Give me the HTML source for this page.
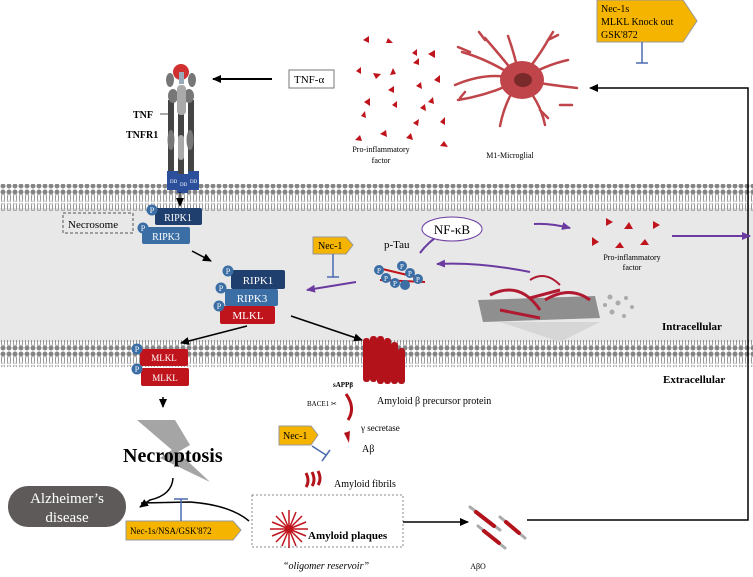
<!DOCTYPE html>
<html><head><meta charset="utf-8"><style>
body{margin:0;background:#fff}
svg{display:block;font-family:"Liberation Serif",serif}
</style></head><body>
<svg width="753" height="577" viewBox="0 0 753 577" xmlns="http://www.w3.org/2000/svg">
<defs>
<pattern id="lip" width="6" height="27" patternUnits="userSpaceOnUse">
<circle cx="3" cy="3" r="2.5" fill="#858585"/>
<path d="M2 5 q-1 4 0 8 M4 5 q1 4 0 8 M2 14 q-1 4 0 8 M4 14 q1 4 0 8" stroke="#8a8a8a" stroke-width="0.9" fill="none"/>
<circle cx="3" cy="24" r="2.5" fill="#858585"/>
</pattern>
<marker id="ah" markerUnits="userSpaceOnUse" markerWidth="9" markerHeight="8" refX="8" refY="4" orient="auto"><path d="M0 0 L9 4 L0 8z" fill="#000"/></marker>
<marker id="ap" markerUnits="userSpaceOnUse" markerWidth="9" markerHeight="8" refX="8" refY="4" orient="auto"><path d="M0 0 L9 4 L0 8z" fill="#6a3aa0"/></marker>
</defs>

<rect x="0" y="208" width="753" height="134" fill="#e8e8e8"/>
<rect x="0" y="184" width="753" height="27" fill="url(#lip)"/>
<rect x="0" y="340" width="753" height="27" fill="url(#lip)"/>

<g>
<rect x="168" y="100" width="6" height="75" fill="#444"/><rect x="178" y="100" width="6" height="75" fill="#444"/><rect x="188" y="100" width="6" height="75" fill="#444"/>
<ellipse cx="170" cy="80" rx="4" ry="7" fill="#777"/><ellipse cx="192" cy="80" rx="4" ry="7" fill="#777"/>
<ellipse cx="173" cy="96" rx="5" ry="7" fill="#777"/><ellipse cx="189" cy="96" rx="5" ry="7" fill="#777"/>
<rect x="177" y="85" width="9" height="30" rx="4" fill="#aaa"/>
<ellipse cx="171" cy="140" rx="3.5" ry="10" fill="#777"/><ellipse cx="190" cy="140" rx="3.5" ry="10" fill="#777"/>
<rect x="178" y="135" width="6" height="25" rx="3" fill="#aaa"/>
<circle cx="181" cy="72" r="8" fill="#d03030"/><rect x="179" y="72" width="5" height="12" fill="#9ab"/>
<rect x="167" y="171" width="11" height="19" fill="#2b4f9a"/><rect x="177" y="174" width="11" height="19" fill="#2b4f9a"/><rect x="188" y="171" width="11" height="19" fill="#2b4f9a"/>
<text x="170" y="183" font-size="5" fill="#fff">DD</text><text x="180" y="186" font-size="5" fill="#fff">DD</text><text x="190" y="183" font-size="5" fill="#fff">DD</text>
<line x1="180" y1="192" x2="180" y2="206" stroke="#000" stroke-width="1.2" marker-end="url(#ah)"/>
</g>
<text x="133" y="118" font-size="10" font-weight="bold">TNF</text>
<line x1="160" y1="114" x2="168" y2="114" stroke="#555"/>
<text x="126" y="138" font-size="10" font-weight="bold">TNFR1</text>
<line x1="272" y1="79" x2="213" y2="79" stroke="#000" stroke-width="2" marker-end="url(#ah)"/>
<rect x="289" y="70" width="45" height="18" fill="#fff" stroke="#777"/>
<text x="294" y="83" font-size="11">TNF-α</text>

<g fill="#c0141c">
<path d="M363 40 l6 -4 v7z M388 38 l5 5 h-7z M356 71 l5 -4 v7z M381 74 l-5 5 l-3 -6z M390 75 l3 -7 3 6z M412 53 l5 -4 v7z M435 50 l-7 4 7 4z M413 63 l6 -5 v7z M394 86 l-6 4 6 3z M421 82 l-5 4 6 3z M434 80 l6 -5 0 8z M397 101 l-5 4 5 3z M433 97 l-5 5 6 2z M420 108 l5 -4 1 7z M413 123 l6 -4 -1 7z M380 134 l6 -4 1 7z M406 138 l5 -5 2 7z M440 122 l5 -5 v8z M440 146 l4 -5 4 6z M370 98 l-6 4 6 4z M355 140 l5 -5 2 6z M361 116 l4 -5 1 7z"/>
</g>
<text x="381" y="152" font-size="8" text-anchor="middle">Pro-inflammatory</text>
<text x="381" y="163" font-size="8" text-anchor="middle">factor</text>

<g stroke="#c0454a" stroke-width="2.5" fill="none" stroke-linecap="round">
<path d="M520 80 Q490 70 455 85 M520 80 Q490 60 462 52 M520 80 Q500 55 485 38 M520 80 Q515 55 508 36 M520 80 Q540 55 548 40 M520 80 Q545 65 568 60 M520 80 Q550 85 577 88 M520 80 Q540 100 545 125 M520 80 Q505 100 500 126 M520 80 Q490 95 458 100 M470 52 l-12 -5 M485 40 l-6 -8 M548 40 l5 -8 M548 40 l10 -5 M560 105 l12 0 M540 110 l8 8 M465 92 l-5 6"/>
<ellipse cx="522" cy="80" rx="22" ry="19" fill="#c0454a" stroke="none"/>
<ellipse cx="523" cy="80" rx="9" ry="7" fill="#7a2a2a" stroke="none"/>
</g>
<text x="510" y="158" font-size="8" text-anchor="middle">M1-Microglial</text>

<path d="M597 0 H683 L697 21 L683 42 H597z" fill="#f5b400" stroke="#999"/>
<text x="601" y="12" font-size="10">Nec-1s</text><text x="601" y="25" font-size="10">MLKL  Knock out</text><text x="601" y="38" font-size="10">GSK'872</text>
<line x1="642" y1="42" x2="642" y2="63" stroke="#4a6ab0" stroke-width="1.5"/><line x1="636" y1="63" x2="648" y2="63" stroke="#4a6ab0" stroke-width="1.5"/>

<path d="M527 520 H748 V88 H590" fill="none" stroke="#000" stroke-width="1.5" marker-end="url(#ah)"/>

<rect x="63" y="213" width="70" height="20" fill="none" stroke="#555" stroke-dasharray="3,2"/>
<text x="68" y="228" font-size="11">Necrosome</text>
<rect x="155" y="208" width="47" height="17" rx="2" fill="#1f3f6e"/><text x="178" y="221" font-size="10" fill="#fff" text-anchor="middle">RIPK1</text>
<rect x="142" y="227" width="48" height="17" rx="2" fill="#3a6ea5"/><text x="166" y="240" font-size="10" fill="#fff" text-anchor="middle">RIPK3</text>
<circle cx="152" cy="210" r="5.5" fill="#3a6ea5"/><text x="152" y="213" font-size="8" fill="#fff" text-anchor="middle">P</text>
<circle cx="143" cy="228" r="5.5" fill="#3a6ea5"/><text x="143" y="231" font-size="8" fill="#fff" text-anchor="middle">P</text>
<line x1="192" y1="251" x2="211" y2="261" stroke="#000" stroke-width="1.5" marker-end="url(#ah)"/>

<rect x="231" y="270" width="54" height="19" rx="2" fill="#1f3f6e"/><text x="258" y="284" font-size="11" fill="#fff" text-anchor="middle">RIPK1</text>
<rect x="225" y="289" width="53" height="17" rx="2" fill="#3a6ea5"/><text x="252" y="302" font-size="11" fill="#fff" text-anchor="middle">RIPK3</text>
<rect x="220" y="306" width="55" height="18" rx="2" fill="#c0141c"/><text x="248" y="319" font-size="11" fill="#fff" text-anchor="middle">MLKL</text>
<g fill="#3a6ea5"><circle cx="228" cy="271" r="5.5"/><circle cx="221" cy="288" r="5.5"/><circle cx="219" cy="306" r="5.5"/></g>
<g font-size="8" fill="#fff" text-anchor="middle"><text x="228" y="274">P</text><text x="221" y="291">P</text><text x="219" y="309">P</text></g>

<path d="M313 237 H346 L353 245 L346 254 H313z" fill="#f5b400" stroke="#999"/><text x="318" y="249" font-size="10">Nec-1</text>
<line x1="333" y1="254" x2="333" y2="277" stroke="#4a6ab0" stroke-width="1.5"/><line x1="327" y1="277" x2="339" y2="277" stroke="#4a6ab0" stroke-width="1.5"/>
<line x1="356" y1="282" x2="307" y2="290" stroke="#6a3aa0" stroke-width="2" marker-end="url(#ap)"/>

<text x="384" y="248" font-size="11">p-Tau</text>
<g>
<line x1="378" y1="268" x2="420" y2="278" stroke="#c0141c" stroke-width="2"/><line x1="380" y1="280" x2="425" y2="282" stroke="#c0141c" stroke-width="2"/>
<g fill="#3a6ea5"><circle cx="379" cy="270" r="5"/><circle cx="386" cy="278" r="5"/><circle cx="395" cy="283" r="5"/><circle cx="402" cy="266" r="5"/><circle cx="410" cy="273" r="5"/><circle cx="418" cy="279" r="5"/><circle cx="405" cy="285" r="5"/></g>
<g font-size="7" fill="#fff" text-anchor="middle"><text x="379" y="273">P</text><text x="386" y="281">P</text><text x="395" y="286">P</text><text x="402" y="269">P</text><text x="410" y="276">P</text><text x="418" y="282">P</text></g>
</g>
<path d="M420 253 Q428 242 442 233" fill="none" stroke="#6a3aa0" stroke-width="2" marker-end="url(#ap)"/>
<ellipse cx="452" cy="229" rx="30" ry="12" fill="#fff" stroke="#6a3aa0"/>
<text x="452" y="234" font-size="13" text-anchor="middle">NF-κB</text>
<path d="M534 224 Q550 223 570 228" fill="none" stroke="#6a3aa0" stroke-width="2" marker-end="url(#ap)"/>
<path d="M530 272 Q480 262 437 264" fill="none" stroke="#6a3aa0" stroke-width="2" marker-end="url(#ap)"/>
<g fill="#c0141c">
<path d="M606 218 l7 4 -7 4z M624 229 l5 -7 4 7z M653 221 l7 4 -7 4z M592 237 l7 5 -7 4z M615 248 l5 -6 4 6z M640 245 l5 -6 4 6z"/>
</g>
<text x="632" y="260" font-size="8" text-anchor="middle">Pro-inflammatory</text><text x="632" y="270" font-size="8" text-anchor="middle">factor</text>
<line x1="672" y1="236" x2="750" y2="236" stroke="#6a3aa0" stroke-width="2" marker-end="url(#ap)"/>

<g>
<path d="M500 322 L560 342 L600 322z" fill="#d6d6d6"/>
<path d="M478 300 L595 296 L600 318 L483 322z" fill="#8f8f8f"/>
<path d="M490 295 Q520 280 540 310 M530 298 L560 290 M545 300 Q570 285 590 300 M500 310 L540 318" stroke="#b01a30" stroke-width="3" fill="none"/>
<path d="M530 280 Q545 270 560 285" stroke="#b01a30" stroke-width="2" fill="none"/>
<g fill="#aaa"><circle cx="610" cy="297" r="2.5"/><circle cx="618" cy="303" r="2.5"/><circle cx="626" cy="298" r="2"/><circle cx="612" cy="312" r="2.5"/><circle cx="624" cy="316" r="2"/><circle cx="632" cy="307" r="2"/><circle cx="605" cy="305" r="2"/></g>
</g>
<text x="662" y="330" font-size="11" font-weight="bold">Intracellular</text>
<text x="663" y="383" font-size="11" font-weight="bold">Extracellular</text>

<line x1="247" y1="326" x2="181" y2="343" stroke="#000" stroke-width="1.5" marker-end="url(#ah)"/>
<line x1="291" y1="316" x2="362" y2="340" stroke="#000" stroke-width="1.5" marker-end="url(#ah)"/>

<rect x="140" y="349" width="48" height="17" rx="2" fill="#c0141c"/><text x="164" y="361" font-size="9" fill="#fff" text-anchor="middle">MLKL</text>
<rect x="141" y="368" width="48" height="18" rx="2" fill="#c0141c"/><text x="165" y="381" font-size="9" fill="#fff" text-anchor="middle">MLKL</text>
<circle cx="137" cy="349" r="5.5" fill="#3a6ea5"/><text x="137" y="352" font-size="8" fill="#fff" text-anchor="middle">P</text>
<circle cx="137" cy="369" r="5.5" fill="#3a6ea5"/><text x="137" y="372" font-size="8" fill="#fff" text-anchor="middle">P</text>
<line x1="163" y1="397" x2="163" y2="407" stroke="#000" stroke-width="1.5" marker-end="url(#ah)"/>

<path d="M137 420 L175 420 L190 445 L178 452 L210 482 L160 458 L172 450z" fill="#a5a5a5"/>
<text x="123" y="462" font-size="20" font-weight="bold">Necroptosis</text>
<path d="M173 478 Q172 495 150 500 L140 507" fill="none" stroke="#000" stroke-width="1.5" marker-end="url(#ah)"/>
<path d="M249 521 Q230 505 190 502 L141 503" fill="none" stroke="#000" stroke-width="1.5"/>
<rect x="8" y="486" width="118" height="41" rx="20" fill="#5e5a5a"/>
<text x="67" y="503" font-size="15" fill="#fff" text-anchor="middle">Alzheimer’s</text>
<text x="67" y="522" font-size="15" fill="#fff" text-anchor="middle">disease</text>
<path d="M126 521 H233 L241 530 L233 540 H126z" fill="#f5b400" stroke="#999"/>
<text x="130" y="534" font-size="9">Nec-1s/NSA/GSK'872</text>
<line x1="181" y1="521" x2="181" y2="499" stroke="#4a6ab0" stroke-width="1.5"/><line x1="174" y1="499" x2="188" y2="499" stroke="#4a6ab0" stroke-width="1.5"/>

<g fill="#b3121a">
<rect x="363" y="338" width="7" height="44" rx="3"/><rect x="370" y="336" width="7" height="46" rx="3"/><rect x="377" y="336" width="7" height="48" rx="3"/><rect x="384" y="338" width="7" height="46" rx="3"/><rect x="391" y="342" width="7" height="42" rx="3"/><rect x="398" y="348" width="7" height="36" rx="3"/>
</g>
<text x="333" y="387" font-size="7" font-weight="bold">sAPPβ</text>
<text x="307" y="406" font-size="7">BACE1 ✂</text>
<path d="M346 394 Q356 408 348 420" stroke="#b3121a" stroke-width="3" fill="none"/>
<text x="377" y="404" font-size="10">Amyloid β precursor protein</text>
<text x="361" y="431" font-size="9">γ secretase</text>
<path d="M344 433 l6 -2 l-1 12z" fill="#b3121a"/>
<text x="362" y="452" font-size="10">Aβ</text>
<path d="M279 426 H311 L318 435 L311 445 H279z" fill="#f5b400" stroke="#999"/><text x="283" y="439" font-size="10">Nec-1</text>
<line x1="312" y1="446" x2="326" y2="455" stroke="#4a6ab0" stroke-width="1.5"/><line x1="322" y1="461" x2="330" y2="450" stroke="#4a6ab0" stroke-width="1.5"/>
<path d="M306 473 q4 8 0 14 M312 472 q4 8 0 14 M318 471 q4 8 0 14" stroke="#b3121a" stroke-width="3" fill="none"/>
<text x="334" y="487" font-size="10">Amyloid fibrils</text>
<rect x="252" y="495" width="151" height="52" fill="none" stroke="#888" stroke-dasharray="2,2"/>
<g stroke="#c0141c" stroke-width="1.5">
<path d="M289 510 L289 548 M270 529 L308 529 M276 516 L302 542 M276 542 L302 516 M282 512 L296 546 M282 546 L296 512 M272 522 L306 536 M272 536 L306 522"/>
</g>
<text x="308" y="539" font-size="11" font-weight="bold">Amyloid plaques</text>
<text x="283" y="569" font-size="10" font-style="italic">“oligomer reservoir”</text>
<line x1="403" y1="522" x2="468" y2="522" stroke="#000" stroke-width="1.5" marker-end="url(#ah)"/>
<g stroke-linecap="round">
<path d="M470 507 L500 530 M478 526 L505 548 M500 517 L525 538" stroke="#aaa" stroke-width="3"/>
<path d="M476 512 L494 526 M484 531 L499 543 M506 522 L519 533" stroke="#b3121a" stroke-width="4"/>
</g>
<text x="478" y="569" font-size="8" text-anchor="middle">AβO</text>
</svg>
</body></html>
